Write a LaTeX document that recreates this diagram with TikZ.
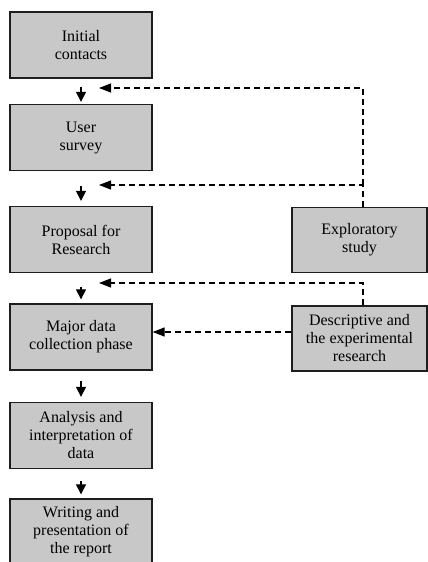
\documentclass[tikz,border=0pt]{standalone}
\usepackage{fontspec}
\setmainfont{Liberation Serif}
\newfontfamily\stagefont{Liberation Serif}
\usetikzlibrary{arrows.meta}

\definecolor{boxgray}{RGB}{200,200,200}
\definecolor{edgegray}{RGB}{30,30,30}

\begin{document}
\begin{tikzpicture}[x=1pt,y=-1pt,
    stagebox/.style={draw=edgegray,fill=boxgray,line width=1.3pt,minimum width=142pt,
      minimum height=66pt,inner sep=0pt,align=center,
      font=\stagefont\fontsize{16}{18}\selectfont},
    sidebox/.style={stagebox,minimum width=135pt,minimum height=65pt},
    flowarrow/.style={line width=1.2pt,-{Triangle[width=10pt,length=10pt]}},
    dasharrow/.style={line width=1.2pt,dash pattern=on 6pt off 4pt,
      -{Triangle[width=9pt,length=12pt]}}]
  \useasboundingbox (0,0) rectangle (428,562);

  % main chain of stages
  \node (init)  at (81,45)    [stagebox] {Initial\\contacts};
  \node (user)  at (81,137.5) [stagebox] {User\\survey};
  \node (prop)  at (81,239.5) [stagebox] {Proposal for\\Research};
  \node (major) at (81,337)   [stagebox] {Major data\\collection phase};
  \node (anal)  at (81,435.5) [stagebox] {Analysis and\\interpretation of\\data};
  \node (write) at (81,532)   [stagebox] {Writing and\\presentation of\\the report};

  % side studies
  \node (explor) at (359.5,240)   [sidebox] {Exploratory\\study};
  \node (descr)  at (359.5,338.5) [sidebox] {Descriptive and\\the experimental\\research};

  \draw[flowarrow,shorten <=8pt,shorten >=2pt]  (init.south)  -- (user.north);
  \draw[flowarrow,shorten <=15pt,shorten >=5pt] (user.south)  -- (prop.north);
  \draw[flowarrow,shorten <=14pt,shorten >=4pt] (prop.south)  -- (major.north);
  \draw[flowarrow,shorten <=10pt,shorten >=5pt] (major.south) -- (anal.north);
  \draw[flowarrow,shorten <=12pt,shorten >=4pt] (anal.south)  -- (write.north);

  % feedback from the side studies
  \coordinate (tipa) at (99,88);
  \coordinate (tipb) at (99,185);
  \coordinate (tipc) at (99,283);
  \coordinate (bend) at (363,185);
  \draw[dasharrow] ([xshift=3.5pt]explor.north) -- (bend) -- (tipb);
  \draw[dasharrow] (bend) |- (tipa);
  \draw[dasharrow] ([xshift=3.5pt]descr.north) |- (tipc);
  \draw[dasharrow] ([yshift=6.5pt]descr.west) -- ([yshift=5pt]major.east);

\end{tikzpicture}
\end{document}
